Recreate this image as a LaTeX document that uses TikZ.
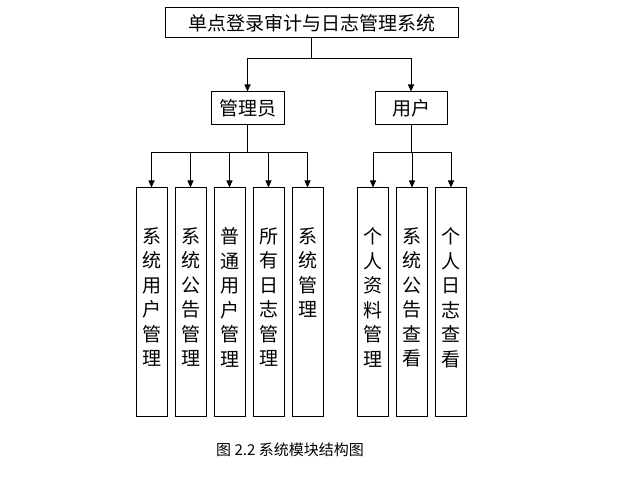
\documentclass[tikz,border=0pt]{standalone}
\usepackage{fontspec}
\setmainfont{Noto Sans CJK SC}
\usetikzlibrary{arrows.meta}
\begin{document}
\begin{tikzpicture}[x=1pt,y=-1pt,
  box/.style={draw,line width=1pt,inner sep=0pt},
  arr/.style={line width=0.8pt,-{Triangle[length=7pt,width=6pt]}},
  ln/.style={line width=0.8pt},
  vt/.style={font=\fontsize{19}{24.5}\selectfont,align=center,anchor=north}]
\useasboundingbox (0,0) rectangle (621,489);
\node[box,minimum width=293pt,minimum height=30pt,font=\fontsize{19}{22}\selectfont] (top) at (311.5,23) {单点登录审计与日志管理系统};
\node[box,minimum width=73pt,minimum height=33pt,font=\fontsize{19}{22}\selectfont] (adm) at (247.5,108.5) {管理员};
\node[box,minimum width=72pt,minimum height=33pt,font=\fontsize{19}{22}\selectfont] (usr) at (411,108.5) {用户};
\coordinate (tj) at (311.5,58);
\draw[ln] (top.south) -- (tj);
\draw[arr] (tj) -| (adm.north);
\draw[arr] (tj) -| (usr.north);
\foreach \n/\x/\t in {a1/151.5/系\\统\\用\\户\\管\\理, a2/190.5/系\\统\\公\\告\\管\\理, a3/229.5/普\\通\\用\\户\\管\\理, a4/268.5/所\\有\\日\\志\\管\\理, a5/307.5/系\\统\\管\\理, u1/373/个\\人\\资\\料\\管\\理, u2/412/系\\统\\公\\告\\查\\看, u3/451/个\\人\\日\\志\\查\\看}{
  \node[box,minimum width=31pt,minimum height=228pt] (\n) at (\x,302) {};
  \node[vt] at (\x,224) {\t};
}
\coordinate (aj) at (247.5,152);
\coordinate (uj) at (411,152);
\draw[ln] (adm.south) -- (aj);
\draw[ln] (usr.south) -- (uj);
\draw[ln] (a1.north |- aj) -- (a5.north |- aj);
\draw[ln] (u1.north |- uj) -- (u3.north |- uj);
\foreach \n in {a1,a2,a3,a4,a5}{\draw[arr] (\n.north |- aj) -- (\n.north);}
\foreach \n in {u1,u2,u3}{\draw[arr] (\n.north |- uj) -- (\n.north);}
\node[font=\fontsize{15}{17}\selectfont] (cap) at (290,450) {图 2.2 系统模块结构图};
\end{tikzpicture}
\end{document}
